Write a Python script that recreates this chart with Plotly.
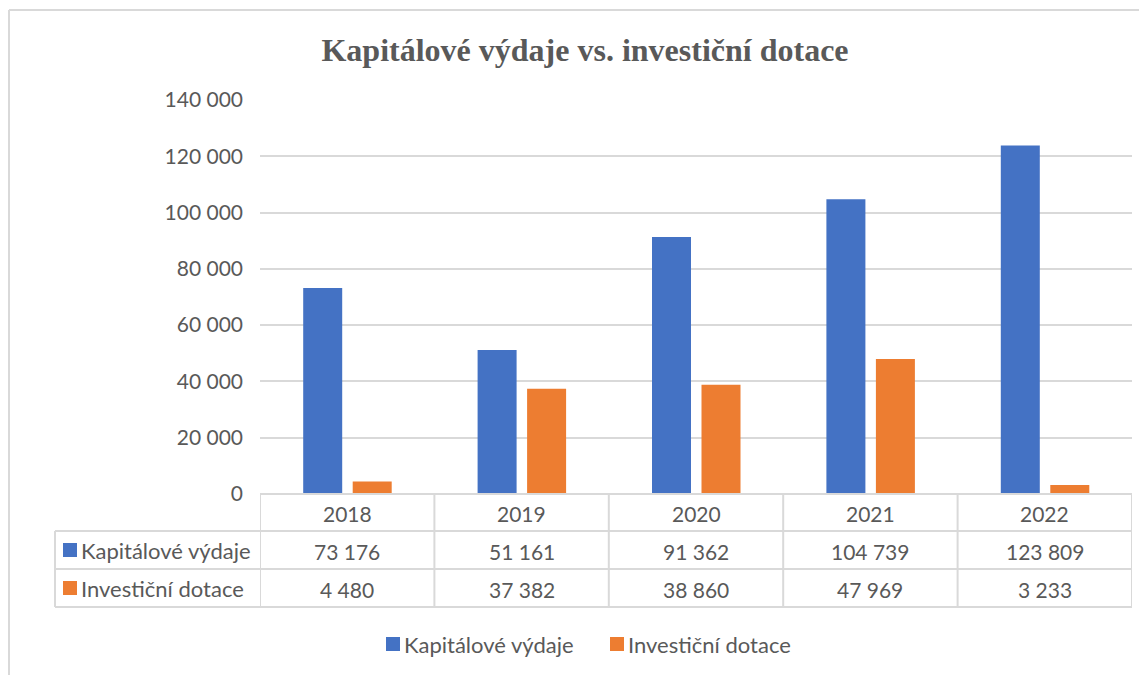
import plotly.graph_objects as go

years = ["2018", "2019", "2020", "2021", "2022"]
series_names = ["Kapitálové výdaje", "Investiční dotace"]
kapitalove = [73176, 51161, 91362, 104739, 123809]
investicni = [4480, 37382, 38860, 47969, 3233]
colors = ["#4472C4", "#ED7D31"]
y_ticks = [0, 20000, 40000, 60000, 80000, 100000, 120000, 140000]
title_text = "Kapitálové výdaje vs. investiční dotace"

# page body has an 8px margin; lay out in reference pixel coords shifted by OFF
OFF = 8
W, H = 1147 - OFF, 675 - OFF
L = 260 - OFF
T = 100 - OFF
R = W - (1132 - OFF)
B = H - (494 - OFF)
PW, PH = W - L - R, H - T - B
CAT = PW / len(years)
TXT = "#595959"
GRID = "#d9d9d9"
FONT = "Lato"
FS_NUM = 21
FS_TXT = 22


def fmt(v):
    return f"{v:,}".replace(",", " ")


def px(x):
    return (x - OFF - L) / PW


def py(y):
    return (T + PH - (y - OFF)) / PH


fig = go.Figure()
bar_w = 39 / CAT
offsets = [-44 / CAT, 5.5 / CAT]
for name, vals, col, off in zip(series_names, [kapitalove, investicni], colors, offsets):
    fig.add_trace(go.Bar(x=years, y=vals, name=name, width=bar_w, offset=off,
                         marker=dict(color=col, line=dict(width=0)), showlegend=False))

shapes = []
annotations = []
line = dict(color=GRID, width=2)

r_top, r1, r2, r3 = 494, 531, 569, 607
left_x = 55
shapes.append(dict(type="line", xref="paper", yref="paper", x0=0, x1=1, y0=py(r_top), y1=py(r_top), line=line))
for yy in (r1, r2, r3):
    shapes.append(dict(type="line", xref="paper", yref="paper", x0=px(left_x), x1=1, y0=py(yy), y1=py(yy), line=line))
for i in range(len(years) + 1):
    shapes.append(dict(type="line", xref="x", yref="paper", x0=i - 0.5, x1=i - 0.5,
                       y0=py(r_top), y1=py(r3), line=line))
shapes.append(dict(type="line", xref="paper", yref="paper", x0=px(left_x), x1=px(left_x),
                   y0=py(r1), y1=py(r3), line=line))

# outer chart border (top and left)
shapes.append(dict(type="line", xref="paper", yref="paper", x0=px(9), x1=px(1160), y0=py(10), y1=py(10),
                   line=dict(color=GRID, width=2)))
shapes.append(dict(type="line", xref="paper", yref="paper", x0=px(9), x1=px(9), y0=py(10), y1=py(690),
                   line=dict(color=GRID, width=2)))

for i, yr in enumerate(years):
    annotations.append(dict(x=i, y=py((r_top + r1) / 2 + 1), xref="x", yref="paper", text=yr, showarrow=False,
                            font=dict(family=FONT, size=FS_NUM, color=TXT), xanchor="center", yanchor="middle"))
rows = [(r1 + r2) / 2, (r2 + r3) / 2]
for ri, vals in enumerate([kapitalove, investicni]):
    yc = rows[ri]
    for i, v in enumerate(vals):
        annotations.append(dict(x=i, y=py(yc + 1), xref="x", yref="paper", text=fmt(v), showarrow=False,
                                font=dict(family=FONT, size=FS_NUM, color=TXT), xanchor="center", yanchor="middle"))
    shapes.append(dict(type="rect", xref="paper", yref="paper", x0=px(63), x1=px(77),
                       y0=py(yc + 7), y1=py(yc - 7), fillcolor=colors[ri], line=dict(width=0)))
    annotations.append(dict(x=px(79), y=py(yc), xref="paper", yref="paper", text=series_names[ri],
                            showarrow=False, font=dict(family=FONT, size=FS_TXT, color=TXT),
                            xanchor="left", yanchor="middle"))

leg_y = 644
leg_x = [386, 610]
for k in range(2):
    shapes.append(dict(type="rect", xref="paper", yref="paper", x0=px(leg_x[k]), x1=px(leg_x[k] + 14),
                       y0=py(leg_y + 7), y1=py(leg_y - 7), fillcolor=colors[k], line=dict(width=0)))
    annotations.append(dict(x=px(leg_x[k] + 16), y=py(leg_y), xref="paper", yref="paper", text=series_names[k],
                            showarrow=False, font=dict(family=FONT, size=FS_TXT, color=TXT),
                            xanchor="left", yanchor="middle"))

fig.update_layout(
    width=W, height=H,
    margin=dict(l=L, r=R, t=T, b=B, autoexpand=False),
    paper_bgcolor="white", plot_bgcolor="white",
    title=dict(text="<b>" + title_text + "</b>", xref="container", yref="container",
               x=(585 - OFF) / W, y=1 - (50 - OFF) / H, xanchor="center", yanchor="middle",
               font=dict(family="Liberation Serif", size=32, color=TXT)),
    barmode="overlay",
    shapes=shapes, annotations=annotations,
    xaxis=dict(showticklabels=False, showgrid=False, zeroline=False, showline=False, ticks="",
               range=[-0.5, len(years) - 0.5]),
    yaxis=dict(range=[0, 140000], tickvals=y_ticks, ticktext=[fmt(v) for v in y_ticks],
               showgrid=True, gridcolor=GRID, gridwidth=1.5, zeroline=False, showline=False, ticks="",
               ticklabelstandoff=16, tickfont=dict(family=FONT, size=FS_NUM, color=TXT)),
)

fig.write_html("out.html")
